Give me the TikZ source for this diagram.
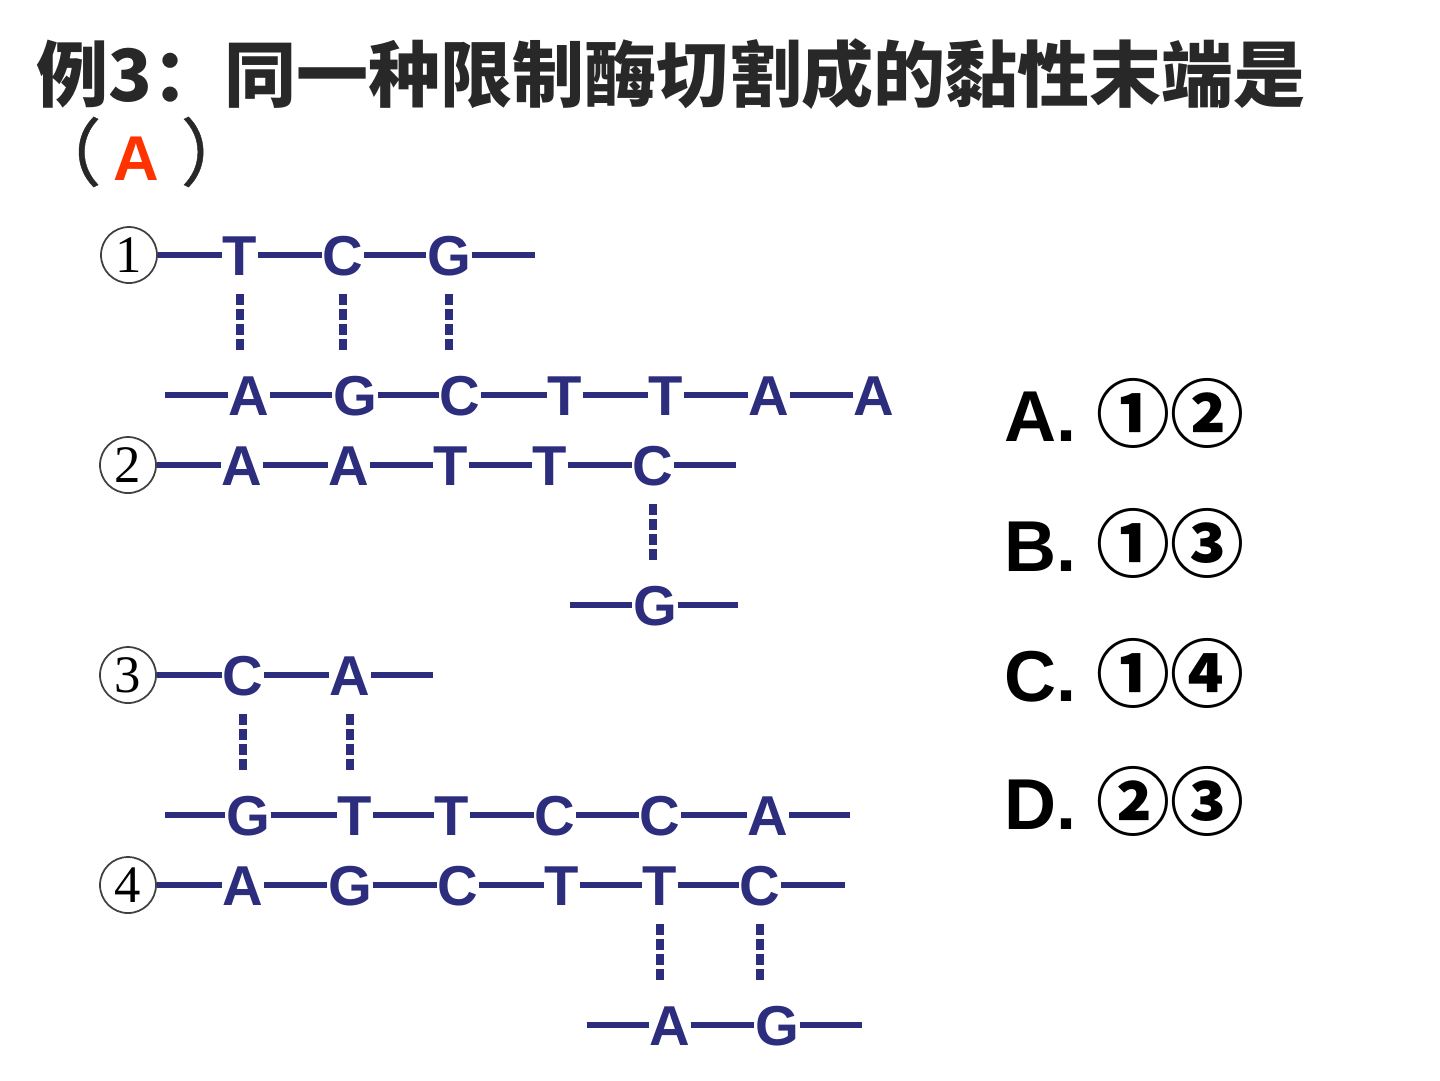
\documentclass[tikz,border=0pt]{standalone}
\usepackage{fontspec}
\setmainfont{Liberation Sans}
\newfontfamily\cjk{Noto Sans CJK SC}
\newfontfamily\circfont{Noto Sans CJK SC}[FakeBold=0.6]
\newfontfamily\numfont{Liberation Serif}
\usetikzlibrary{calc}
\definecolor{dna}{RGB}{45,45,125}
\definecolor{ttl}{RGB}{40,40,40}
\definecolor{ans}{RGB}{255,51,0}
\tikzset{
  base/.style={font=\bfseries\fontsize{16pt}{18pt}\selectfont, text=dna, inner sep=0pt, text height=11.4pt, text depth=0pt},
  lbl/.style={circle, draw=black!75, line width=0.5pt, minimum size=5.6mm, inner sep=0pt, font=\numfont\fontsize{15pt}{16pt}\selectfont},
  bond/.style={dna, line width=0.55mm},
  hbond/.style={dna, line width=0.75mm, dash pattern=on 1.15mm off 0.35mm, shorten <=1.8mm, shorten >=4.5mm},
  opt/.style={anchor=base west, font=\bfseries\fontsize{20.5pt}{24pt}\selectfont}
}
\begin{document}
\begin{tikzpicture}[x=0.1mm,y=-0.1mm]
\useasboundingbox (0,0) rectangle (1440,1080);
% question
\node[anchor=base west, inner sep=0pt, text=ttl, font=\cjk\bfseries\fontsize{20.5pt}{24pt}\selectfont] (title) at (36,101) {例3：同一种限制酶切割成的黏性末端是};
\node[anchor=base west, inner sep=0pt, text=ttl, font=\circfont\fontsize{21pt}{24pt}\selectfont] (lpar) at (27,180) {（};
\node[anchor=base west, inner sep=0pt, text=ans, font=\bfseries\fontsize{18pt}{20pt}\selectfont] (key) at (113,180) {A};
\node[anchor=base west, inner sep=0pt, text=ttl, font=\circfont\fontsize{21pt}{24pt}\selectfont] (rpar) at (180,180) {）};
% fragment 1
\node[lbl] (n1) at (129,255) {1};
\foreach \b/\x [count=\i] in {T/240,C/343,G/449} \node[base] (a\i) at (\x,255) {\b};
\coordinate (a4) at (535,255);
\draw[bond] (n1) -- (a1) -- (a2) -- (a3) -- (a4);
\coordinate (b0) at (165,395);
\foreach \b/\x [count=\i] in {A/249,G/355,C/460,T/565,T/666,A/769,A/874} \node[base] (b\i) at (\x,395) {\b};
\draw[bond] (b0) -- (b1) -- (b2) -- (b3) -- (b4) -- (b5) -- (b6) -- (b7);
\foreach \i in {1,2,3} \draw[hbond] (a\i) -- (a\i |- b\i);
% fragment 2
\node[lbl] (n2) at (128,465) {2};
\foreach \b/\x [count=\i] in {A/242,A/349,T/451,T/550,C/653} \node[base] (c\i) at (\x,465) {\b};
\coordinate (c6) at (736,465);
\draw[bond] (n2) -- (c1) -- (c2) -- (c3) -- (c4) -- (c5) -- (c6);
\coordinate (d0) at (570,605);
\node[base] (d1) at (655,605) {G};
\coordinate (d2) at (738,605);
\draw[bond] (d0) -- (d1) -- (d2);
\draw[hbond] (c5) -- (c5 |- d1);
% fragment 3
\node[lbl] (n3) at (128,675) {3};
\foreach \b/\x [count=\i] in {C/243,A/350} \node[base] (e\i) at (\x,675) {\b};
\coordinate (e3) at (433,675);
\draw[bond] (n3) -- (e1) -- (e2) -- (e3);
\coordinate (f0) at (165,815);
\foreach \b/\x [count=\i] in {G/248,T/355,T/452,C/555,C/660,A/768} \node[base] (f\i) at (\x,815) {\b};
\coordinate (f7) at (850,815);
\draw[bond] (f0) -- (f1) -- (f2) -- (f3) -- (f4) -- (f5) -- (f6) -- (f7);
\foreach \i in {1,2} \draw[hbond] (e\i) -- (e\i |- f\i);
% fragment 4
\node[lbl] (n4) at (128,885) {4};
\foreach \b/\x [count=\i] in {A/243,G/350,C/458,T/562,T/660,C/760} \node[base] (g\i) at (\x,885) {\b};
\coordinate (g7) at (845,885);
\draw[bond] (n4) -- (g1) -- (g2) -- (g3) -- (g4) -- (g5) -- (g6) -- (g7);
\coordinate (h0) at (587,1025);
\foreach \b/\x [count=\i] in {A/670,G/777} \node[base] (h\i) at (\x,1025) {\b};
\coordinate (h3) at (862,1025);
\draw[bond] (h0) -- (h1) -- (h2) -- (h3);
\draw[hbond] (g5) -- (g5 |- h1);
\draw[hbond] (g6) -- (g6 |- h2);
% choices
\node[opt] (optA) at (992,441) {A. {\cjk\fontsize{21pt}{24pt}\selectfont ①②}};
\node[opt] (optB) at (992,571) {B. {\cjk\fontsize{21pt}{24pt}\selectfont ①③}};
\node[opt] (optC) at (992,701) {C. {\cjk\fontsize{21pt}{24pt}\selectfont ①④}};
\node[opt] (optD) at (992,829) {D. {\cjk\fontsize{21pt}{24pt}\selectfont ②③}};
\end{tikzpicture}
\end{document}
